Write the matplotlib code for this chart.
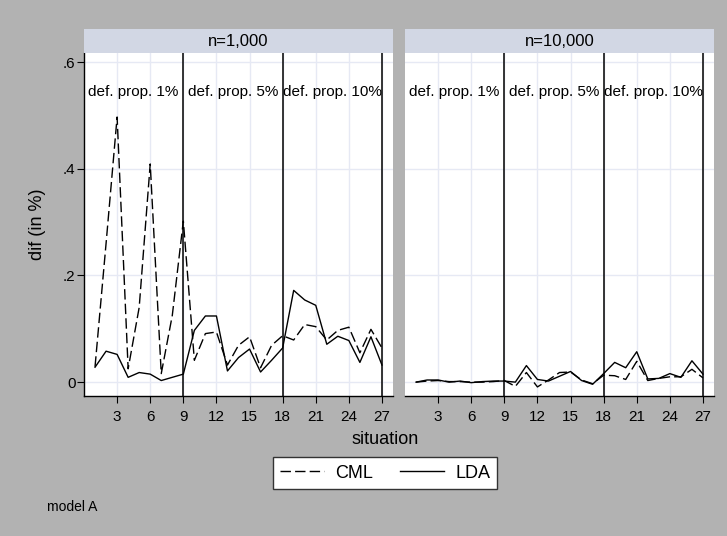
import numpy as np
import matplotlib
matplotlib.use('Agg')
import matplotlib.pyplot as plt
from matplotlib.lines import Line2D

plt.rcParams['font.family'] = ['Liberation Sans', 'DejaVu Sans']

BG     = '#b2b2b2'
STRIP  = '#d2d7e4'
GRID   = '#e6e9f4'

situation = np.arange(1, 28)

# n=1,000
cml_1k = [0.029, 0.26, 0.497, 0.025, 0.14, 0.409, 0.016, 0.125, 0.302,
          0.041, 0.091, 0.094, 0.032, 0.069, 0.085, 0.027, 0.069, 0.087,
          0.079, 0.108, 0.104, 0.079, 0.097, 0.103, 0.055, 0.099, 0.064]
lda_1k = [0.028, 0.058, 0.052, 0.009, 0.018, 0.015, 0.003, 0.009, 0.015,
          0.097, 0.124, 0.124, 0.021, 0.046, 0.062, 0.019, 0.041, 0.064,
          0.172, 0.154, 0.144, 0.071, 0.086, 0.078, 0.037, 0.085, 0.032]

# n=10,000
cml_10k = [0.0, 0.002, 0.003, 0.001, 0.001, 0.0, 0.0, 0.001, 0.003,
           -0.008, 0.018, -0.009, 0.004, 0.018, 0.019, 0.004, -0.003, 0.013,
           0.012, 0.005, 0.039, 0.003, 0.007, 0.010, 0.010, 0.024, 0.008]
lda_10k = [0.0, 0.004, 0.004, 0.0, 0.002, -0.001, 0.001, 0.002, 0.002,
           0.0, 0.031, 0.005, 0.002, 0.011, 0.020, 0.003, -0.004, 0.016,
           0.037, 0.027, 0.057, 0.006, 0.007, 0.016, 0.009, 0.040, 0.015]

panels = [('n=1,000', cml_1k, lda_1k), ('n=10,000', cml_10k, lda_10k)]
group_labels = ['def. prop. 1%', 'def. prop. 5%', 'def. prop. 10%']
group_centers = [4.5, 13.5, 22.5]
xticks = np.arange(3, 28, 3)
yticks = [0, 0.2, 0.4, 0.6]
ytick_labels = ['0', '.2', '.4', '.6']

DASH = (0, (7.5, 3))

FW, FH = 727, 536
fig = plt.figure(figsize=(FW / 100, FH / 100), dpi=100, facecolor=BG)
lefts = [84 / FW, 405 / FW]
W = 309 / FW
B = (FH - 396) / FH
H = (396 - 53) / FH
strip_h = 24 / FH

for i, (title, cml, lda) in enumerate(panels):
    ax = fig.add_axes([lefts[i], B, W, H])
    ax.set_facecolor('white')
    ax.set_xlim(0, 28)
    ax.set_ylim(-0.026, 0.617)
    for s in ['top', 'right']:
        ax.spines[s].set_visible(False)
    ax.spines['bottom'].set_linewidth(1.0)
    ax.set_xticks(xticks)
    ax.set_yticks(yticks)
    ax.grid(True, color=GRID, lw=1.0, zorder=0)
    ax.tick_params(axis='x', direction='out', length=5, width=0.8,
                   labelsize=11, pad=5)
    if i == 0:
        ax.set_yticklabels(ytick_labels)
        ax.tick_params(axis='y', direction='out', length=5, width=0.8,
                       labelsize=11, pad=1)
        ax.spines['left'].set_linewidth(1.0)
    else:
        ax.spines['left'].set_visible(False)
        ax.tick_params(axis='y', length=0, labelleft=False)

    for xv in [9, 18, 27]:
        ax.axvline(xv, color='black', lw=1.1, zorder=2)
    for lab, xc in zip(group_labels, group_centers):
        ax.text(xc, 0.544, lab, ha='center', va='center', fontsize=11)

    ax.plot(situation, cml, color='black', lw=1.0, linestyle=DASH, zorder=3)
    ax.plot(situation, lda, color='black', lw=1.0, zorder=3)

    # strip header
    sax = fig.add_axes([lefts[i], B + H, W, strip_h])
    sax.set_facecolor(STRIP)
    sax.set_xticks([]); sax.set_yticks([])
    for s in sax.spines.values():
        s.set_visible(False)
    sax.text(0.5, 0.5, title, ha='center', va='center', fontsize=12,
             transform=sax.transAxes)

fig.text(37 / FW, 1 - 224 / FH, 'dif (in %)', rotation=90, ha='center',
         va='center', fontsize=13)
fig.text(385 / FW, 1 - 440 / FH, 'situation', ha='center', va='center',
         fontsize=13)

handles = [Line2D([], [], color='black', lw=1.0, linestyle=DASH),
           Line2D([], [], color='black', lw=1.0)]
leg = fig.legend(handles, ['CML', 'LDA'], loc='center',
                 bbox_to_anchor=(385 / FW, 1 - 473 / FH), ncol=2,
                 fontsize=13, frameon=True, fancybox=False, framealpha=1,
                 handlelength=2.45, columnspacing=1.5, borderpad=0.4,
                 handletextpad=0.6)
leg.get_frame().set_facecolor('white')
leg.get_frame().set_edgecolor('#333333')
leg.get_frame().set_linewidth(1.0)

fig.text(47 / FW, 1 - 507 / FH, 'model A', ha='left', va='center',
         fontsize=10)

fig.savefig('out.png', dpi=100, facecolor=BG)
